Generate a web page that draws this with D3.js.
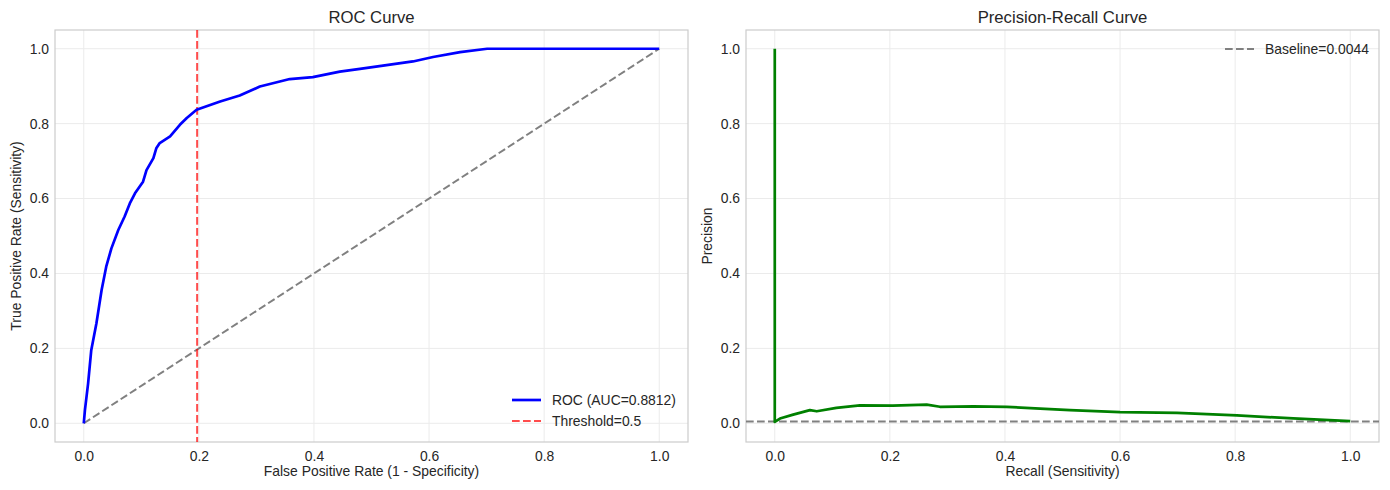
<!DOCTYPE html>
<html>
<head>
<meta charset="utf-8">
<script src="https://cdn.jsdelivr.net/npm/d3@7"></script>
<style>
    body { margin: 0; background: #fff; }
    text { font-family: "Liberation Sans", Arial, sans-serif; fill: #262626; }
</style>
</head>
<body>
<div id="chart"></div>
<script>
// ROC curve points
var rocFpr = [0, 0.002, 0.0075, 0.013, 0.022, 0.031, 0.039, 0.048, 0.060, 0.071, 0.080, 0.089,
    0.103, 0.109, 0.121, 0.126, 0.132, 0.150, 0.167, 0.179, 0.196, 0.237, 0.271, 0.306,
    0.358, 0.398, 0.445, 0.480, 0.520, 0.572, 0.607, 0.654, 0.701, 1.0];
var rocTpr = [0, 0.035, 0.106, 0.195, 0.267, 0.356, 0.418, 0.467, 0.516, 0.552, 0.587, 0.614,
    0.645, 0.676, 0.708, 0.734, 0.748, 0.766, 0.797, 0.815, 0.837, 0.859, 0.875, 0.899,
    0.919, 0.924, 0.939, 0.946, 0.955, 0.966, 0.978, 0.991, 1.0, 1.0];

// precision-recall curve points
var prRecall = [0, 0, 0.009, 0.032, 0.061, 0.073, 0.107, 0.148, 0.205, 0.264, 0.287, 0.345,
    0.403, 0.461, 0.513, 0.6, 0.699, 0.803, 0.901, 1.0];
var prPrecision = [1.0, 0.0035, 0.0126, 0.023, 0.035, 0.032, 0.041, 0.048, 0.047, 0.05, 0.044, 0.045,
    0.044, 0.039, 0.035, 0.030, 0.028, 0.021, 0.013, 0.0055];

var aucValue = 0.8812;
var thresholdFpr = 0.197;
var baseline = 0.0044;
var tickValues = [0, 0.2, 0.4, 0.6, 0.8, 1.0];

var svgWidth = 1390;
var svgHeight = 490;

var svg = d3.select("#chart")
    .append("svg")
    .attr("width", svgWidth)
    .attr("height", svgHeight);

// draws one panel (frame, grid, ticks, labels) and returns its scales
function makePanel(left, right, title, xLabel, yLabel) {
    var top = 30, bottom = 442;
    var xScale = d3.scaleLinear().domain([-0.05, 1.05]).range([left, right]);
    var yScale = d3.scaleLinear().domain([-0.05, 1.05]).range([bottom, top]);

    var g = svg.append("g");

    // grid
    g.selectAll(".vgrid")
        .data(tickValues)
        .enter()
        .append("line")
        .attr("x1", d => xScale(d))
        .attr("x2", d => xScale(d))
        .attr("y1", top)
        .attr("y2", bottom)
        .attr("stroke", "#ebebeb")
        .attr("stroke-width", 1);

    g.selectAll(".hgrid")
        .data(tickValues)
        .enter()
        .append("line")
        .attr("x1", left)
        .attr("x2", right)
        .attr("y1", d => yScale(d))
        .attr("y2", d => yScale(d))
        .attr("stroke", "#ebebeb")
        .attr("stroke-width", 1);

    // axes, ticks hidden like seaborn whitegrid
    var xAxis = d3.axisBottom(xScale).tickValues(tickValues).tickFormat(d3.format(".1f")).tickSize(0).tickPadding(9);
    var yAxis = d3.axisLeft(yScale).tickValues(tickValues).tickFormat(d3.format(".1f")).tickSize(0).tickPadding(6);

    var gx = g.append("g")
        .attr("transform", `translate(0, ${bottom})`)
        .call(xAxis);
    var gy = g.append("g")
        .attr("transform", `translate(${left}, 0)`)
        .call(yAxis);
    [gx, gy].forEach(function (a) {
        a.select(".domain").remove();
        a.selectAll("text").attr("font-size", "13.9px").attr("fill", "#262626")
            .attr("font-family", "Liberation Sans, Arial, sans-serif");
    });

    // frame
    g.append("rect")
        .attr("x", left)
        .attr("y", top)
        .attr("width", right - left)
        .attr("height", bottom - top)
        .attr("fill", "none")
        .attr("stroke", "#cccccc")
        .attr("stroke-width", 1.2);

    // title and labels
    g.append("text")
        .attr("x", (left + right) / 2)
        .attr("y", 23)
        .attr("text-anchor", "middle")
        .attr("font-size", "16.7px")
        .text(title);

    g.append("text")
        .attr("x", (left + right) / 2)
        .attr("y", 476)
        .attr("text-anchor", "middle")
        .attr("font-size", "13.9px")
        .text(xLabel);

    g.append("text")
        .attr("transform", `translate(${left - 34}, ${(top + bottom) / 2}) rotate(-90)`)
        .attr("text-anchor", "middle")
        .attr("font-size", "13.9px")
        .text(yLabel);

    return { g: g, x: xScale, y: yScale, top: top, bottom: bottom, left: left, right: right };
}

var roc = makePanel(55, 688, "ROC Curve", "False Positive Rate (1 - Specificity)", "True Positive Rate (Sensitivity)");
var pr = makePanel(746, 1379, "Precision-Recall Curve", "Recall (Sensitivity)", "Precision");

// ---- ROC panel ----
var rocData = rocFpr.map((d, i) => [d, rocTpr[i]]);

// chance diagonal
roc.g.append("path")
    .datum([[0, 0], [1, 1]])
    .attr("d", d3.line().x(d => roc.x(d[0])).y(d => roc.y(d[1])))
    .attr("fill", "none")
    .attr("stroke", "#808080")
    .attr("stroke-width", 2)
    .attr("stroke-dasharray", "7.7,3.3");

// threshold line
roc.g.append("line")
    .attr("x1", roc.x(thresholdFpr))
    .attr("x2", roc.x(thresholdFpr))
    .attr("y1", roc.top)
    .attr("y2", roc.bottom)
    .attr("stroke", "#ff0000")
    .attr("stroke-opacity", 0.7)
    .attr("stroke-width", 2)
    .attr("stroke-dasharray", "7.7,3.3");

roc.g.append("path")
    .datum(rocData)
    .attr("d", d3.line().x(d => roc.x(d[0])).y(d => roc.y(d[1])))
    .attr("fill", "none")
    .attr("stroke", "#0000ff")
    .attr("stroke-width", 2.7)
    .attr("stroke-linejoin", "round");

// ROC legend
var rocLegend = roc.g.append("g");
var rocItems = [
    { label: `ROC (AUC=${aucValue})`, color: "#0000ff", opacity: 1, dash: null, width: 2.7 },
    { label: "Threshold=0.5", color: "#ff0000", opacity: 0.7, dash: "7.7,3.3", width: 2 }
];
rocItems.forEach(function (item, i) {
    var yy = 400 + i * 21;
    rocLegend.append("line")
        .attr("x1", 512).attr("x2", 541)
        .attr("y1", yy).attr("y2", yy)
        .attr("stroke", item.color)
        .attr("stroke-opacity", item.opacity)
        .attr("stroke-width", item.width)
        .attr("stroke-dasharray", item.dash);
    rocLegend.append("text")
        .attr("x", 552)
        .attr("y", yy + 5)
        .attr("font-size", "13.9px")
        .text(item.label);
});

// ---- PR panel ----
var prData = prRecall.map((d, i) => [d, prPrecision[i]]);

pr.g.append("line")
    .attr("x1", pr.left)
    .attr("x2", pr.right)
    .attr("y1", pr.y(baseline))
    .attr("y2", pr.y(baseline))
    .attr("stroke", "#808080")
    .attr("stroke-width", 2)
    .attr("stroke-dasharray", "7.7,3.3");

pr.g.append("path")
    .datum(prData)
    .attr("d", d3.line().x(d => pr.x(d[0])).y(d => pr.y(d[1])))
    .attr("fill", "none")
    .attr("stroke", "#008000")
    .attr("stroke-width", 2.7)
    .attr("stroke-linejoin", "round");

// PR legend
pr.g.append("line")
    .attr("x1", 1225).attr("x2", 1254)
    .attr("y1", 49).attr("y2", 49)
    .attr("stroke", "#808080")
    .attr("stroke-width", 2)
    .attr("stroke-dasharray", "7.7,3.3");
pr.g.append("text")
    .attr("x", 1265)
    .attr("y", 54)
    .attr("font-size", "13.9px")
    .text(`Baseline=${baseline}`);
</script>
</body>
</html>
